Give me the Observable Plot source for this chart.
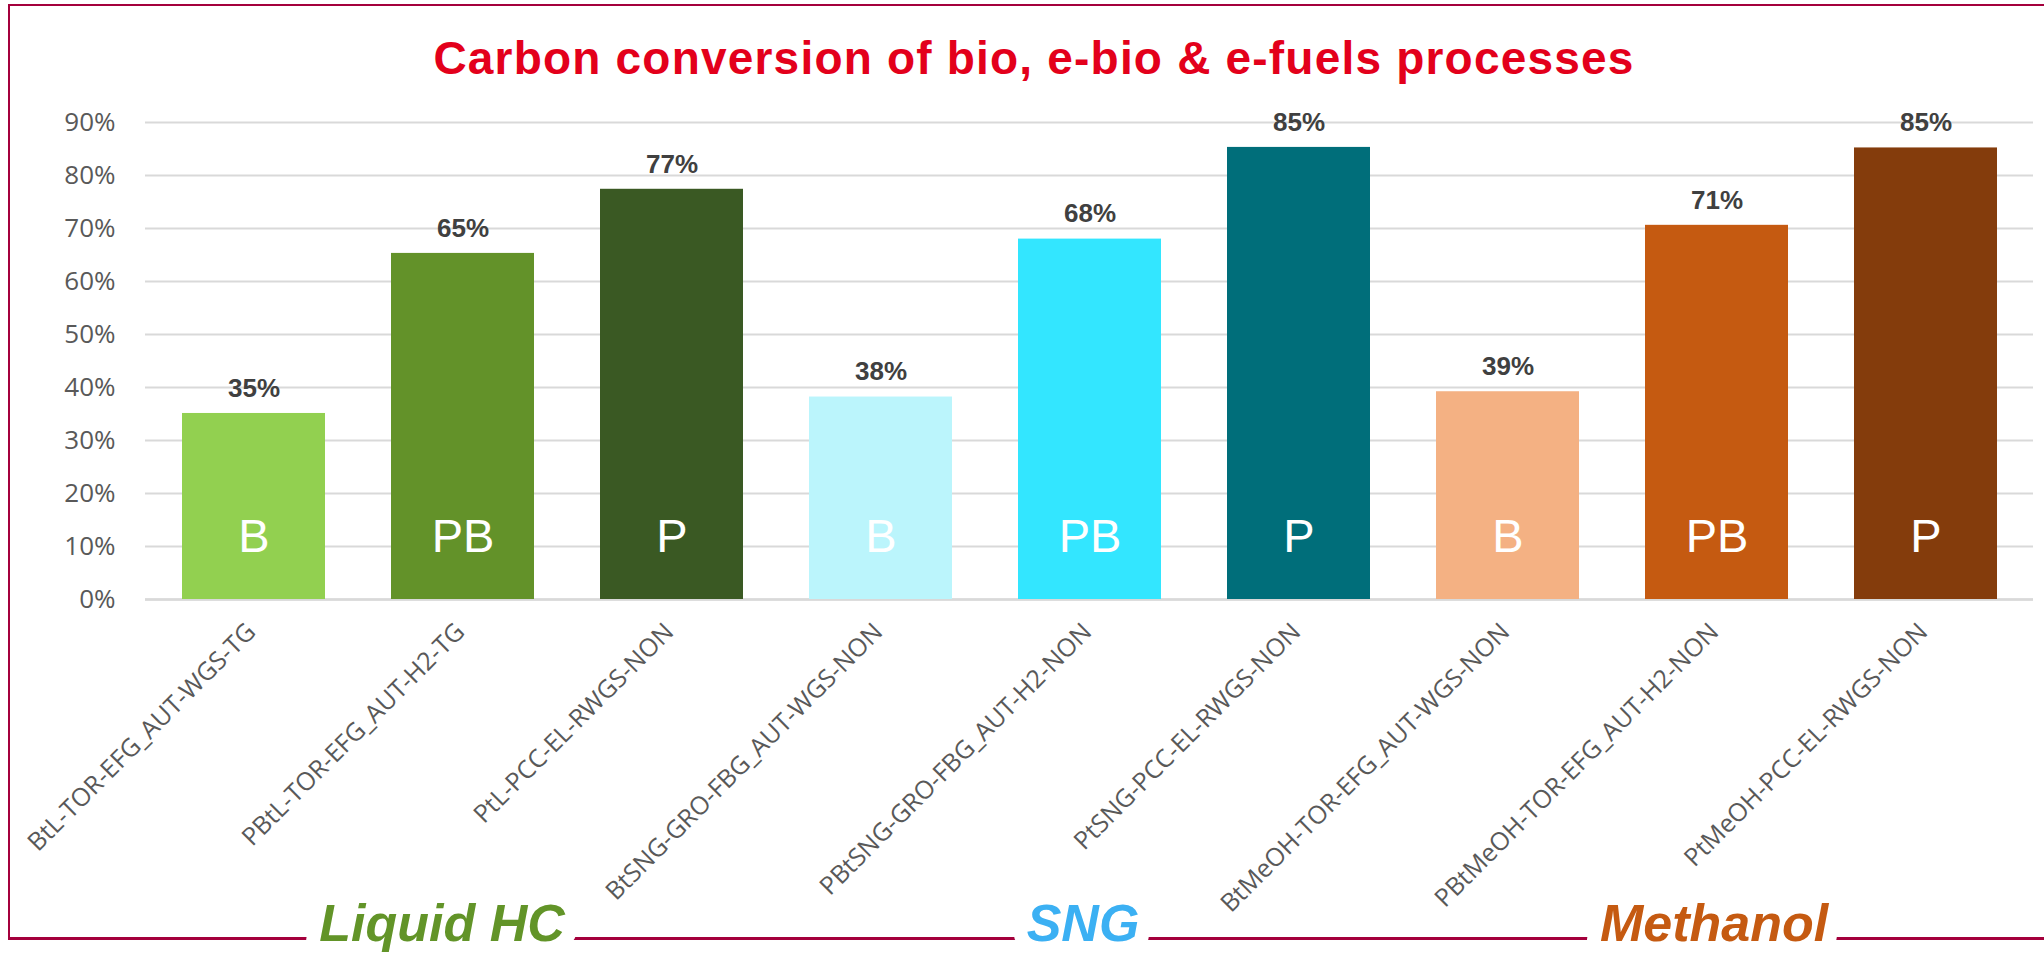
<!DOCTYPE html>
<html>
<head>
<meta charset="utf-8">
<script src="https://cdn.jsdelivr.net/npm/d3@7"></script>
<script src="https://cdn.jsdelivr.net/npm/@observablehq/plot@0.6"></script>
<style>
  body { margin: 0; background: #fff; }
  #wrap { position: relative; width: 2044px; height: 968px; overflow: hidden; background: #fff; }
  #frame { position: absolute; left: 8px; top: 4px; width: 2100px; height: 936px; box-sizing: border-box;
           border-top: 2.5px solid #a4003c; border-left: 2.5px solid #a4003c; border-bottom: 3px solid #a4003c; }
  #chart { position: absolute; left: 0; top: 0; }
  #title { position: absolute; left: 0; top: 35px; width: 2068px; text-align: center; white-space: nowrap;
           font: bold 46px/46px "Liberation Sans", Arial, sans-serif; letter-spacing: 1.2px; color: #e3001b; }
</style>
</head>
<body>
<div id="wrap">
  <div id="frame"></div>
  <div id="chart"></div>
  <div id="title">Carbon conversion of bio, e-bio &amp; e-fuels processes</div>
</div>
<script>
// ---- data ----
const categories = [
  "BtL-TOR-EFG_AUT-WGS-TG",
  "PBtL-TOR-EFG_AUT-H2-TG",
  "PtL-PCC-EL-RWGS-NON",
  "BtSNG-GRO-FBG_AUT-WGS-NON",
  "PBtSNG-GRO-FBG_AUT-H2-NON",
  "PtSNG-PCC-EL-RWGS-NON",
  "BtMeOH-TOR-EFG_AUT-WGS-NON",
  "PBtMeOH-TOR-EFG_AUT-H2-NON",
  "PtMeOH-PCC-EL-RWGS-NON"
];
const conversion = [0.351, 0.653, 0.774, 0.382, 0.680, 0.853, 0.392, 0.706, 0.852];
const pathways = ["B", "PB", "P", "B", "PB", "P", "B", "PB", "P"];
const barColors = ["#92d050", "#639229", "#3a5923", "#bbf5fc", "#33e6ff", "#006e7a", "#f4b183", "#c55a11", "#843c0c"];
const groups = ["Liquid HC", "SNG", "Methanol"];
const groupColors = ["#629428", "#3bb0f3", "#c55a11"];
const groupMidCategory = [categories[1], categories[4], categories[7]];
const yTicks = [0, 0.1, 0.2, 0.3, 0.4, 0.5, 0.6, 0.7, 0.8, 0.9];

const data = categories.map((c, i) => ({category: c, value: conversion[i], pathway: pathways[i], color: barColors[i]}));
const pct = d3.format(".0%");
const groupDx = [-21, -7, -3];

const chart = Plot.plot({
  width: 2044,
  height: 968,
  marginTop: 122,
  marginBottom: 369,
  marginLeft: 145,
  marginRight: 11,
  style: {background: "transparent", overflow: "visible", fontFamily: "Liberation Sans, Arial, sans-serif"},
  x: {domain: categories, paddingInner: 0.318, paddingOuter: 0.159, axis: null},
  y: {domain: [0, 0.9], axis: null},
  color: {type: "identity"},
  marks: [
    Plot.gridY(yTicks, {stroke: "#d9d9d9", strokeOpacity: 1, strokeWidth: 2}),
    Plot.axisY(yTicks, {tickSize: 0, tickPadding: 30, tickFormat: pct, fontSize: 26, fill: "#595959",
                        fontFamily: "Open Sans", label: null}),
    Plot.ruleY([0], {stroke: "#d9d9d9", strokeWidth: 2.5}),
    Plot.barY(data, {x: "category", y: "value", fill: "color"}),
    Plot.text(data, {x: "category", y: "value", text: d => pct(d.value), dy: -25, fontSize: 26,
                     fontWeight: "bold", fill: "#404040", fontFamily: "Liberation Sans"}),
    Plot.text(data, {x: "category", text: "pathway", frameAnchor: "bottom", dy: -48, fontSize: 47,
                     fill: "white", fontFamily: "Liberation Sans"}),
    Plot.text(categories, {x: d => d, text: d => d, frameAnchor: "bottom", rotate: -45, textAnchor: "end",
                           dx: 3, dy: 34, fontSize: 25, fill: "#595959", fontFamily: "Open Sans"}),
    ...groups.map((g, i) => Plot.text([g], {
      x: () => groupMidCategory[i], text: d => d, frameAnchor: "bottom", dy: 341, dx: groupDx[i],
      fontSize: 52, fontWeight: "bold", fontStyle: "italic", fontFamily: "Liberation Sans",
      fill: groupColors[i], stroke: "white", strokeWidth: 28, strokeLinejoin: "round", paintOrder: "stroke"
    }))
  ]
});
document.getElementById("chart").appendChild(chart);
</script>
</body>
</html>
